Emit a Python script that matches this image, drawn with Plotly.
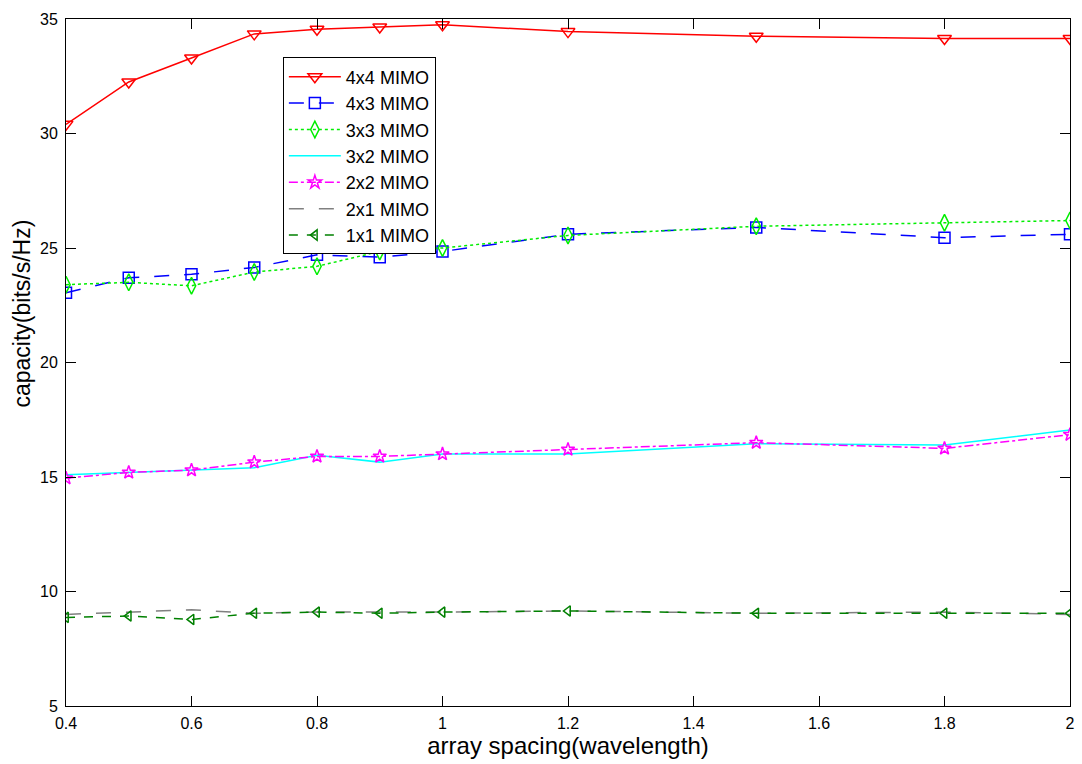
import plotly.graph_objects as go

x = [0.4, 0.5, 0.6, 0.7, 0.8, 0.9, 1.0, 1.2, 1.5, 1.8, 2.0]
mimo_4x4 = [30.4, 32.25, 33.3, 34.35, 34.55, 34.65, 34.75, 34.45, 34.25, 34.15, 34.15]
mimo_4x3 = [23.05, 23.7, 23.85, 24.15, 24.7, 24.6, 24.85, 25.6, 25.9, 25.45, 25.6]
mimo_3x3 = [23.4, 23.5, 23.35, 23.95, 24.2, 24.85, 25.0, 25.55, 25.95, 26.1, 26.2]
mimo_3x2 = [15.1, 15.2, 15.3, 15.4, 15.95, 15.65, 16.0, 16.0, 16.45, 16.4, 17.05]
mimo_2x2 = [14.95, 15.2, 15.3, 15.65, 15.9, 15.9, 16.0, 16.2, 16.5, 16.25, 16.85]
mimo_2x1 = [9.0, 9.1, 9.2, 9.05, 9.1, 9.1, 9.1, 9.15, 9.05, 9.1, 9.0]
mimo_1x1 = [8.87, 8.93, 8.78, 9.05, 9.1, 9.05, 9.1, 9.15, 9.05, 9.05, 9.05]

names = ["4x4 MIMO", "4x3 MIMO", "3x3 MIMO", "3x2 MIMO", "2x2 MIMO", "2x1 MIMO", "1x1 MIMO"]
series = [mimo_4x4, mimo_4x3, mimo_3x3, mimo_3x2, mimo_2x2, mimo_2x1, mimo_1x1]
styles = [
    dict(color="#ff0000", dash="solid", symbol="triangle-down-open", size=12, mode="lines+markers"),
    dict(color="#0000ff", dash="longdash", symbol="square-open", size=11, mode="lines+markers"),
    dict(color="#00ee00", dash="dot", symbol="diamond-tall-open", size=12, mode="lines+markers"),
    dict(color="#00ffff", dash="solid", symbol="circle", size=1, mode="lines"),
    dict(color="#ff00ff", dash="dashdot", symbol="star-open", size=10, mode="lines+markers"),
    dict(color="#808080", dash="longdash", symbol="circle", size=1, mode="lines"),
    dict(color="#008000", dash="dash", symbol="triangle-left-open", size=9, mode="lines+markers"),
]

fig = go.Figure()
for name, y, st in zip(names, series, styles):
    fig.add_trace(go.Scatter(
        x=x, y=y, name=name, mode=st["mode"],
        line=dict(color=st["color"], dash=st["dash"], width=1.5),
        marker=dict(symbol=st["symbol"], size=st["size"], color=st["color"],
                    line=dict(color=st["color"], width=1.5)),
    ))

font_fam = "Liberation Sans, Arial, sans-serif"

fig.update_layout(
    width=1082, height=764,
    margin=dict(l=66, r=7, t=19, b=58),
    paper_bgcolor="white", plot_bgcolor="white",
    font=dict(family=font_fam, size=16, color="black"),
    showlegend=True,
    legend=dict(x=0.216, y=0.944, xanchor="left", yanchor="top",
                bgcolor="white", bordercolor="black", borderwidth=1,
                font=dict(family=font_fam, size=18),
                tracegroupgap=0, itemwidth=52),
    xaxis=dict(range=[0.4, 2.0], tickvals=[0.4, 0.6, 0.8, 1.0, 1.2, 1.4, 1.6, 1.8, 2.0],
               ticktext=["0.4", "0.6", "0.8", "1", "1.2", "1.4", "1.6", "1.8", "2"],
               ticks="inside", ticklen=10, tickcolor="black", ticklabelstandoff=3,
               showline=True, linecolor="black", linewidth=1, mirror="allticks",
               showgrid=False, zeroline=False,
               title=dict(text="array spacing(wavelength)", font=dict(size=24), standoff=4)),
    yaxis=dict(range=[5, 35], tickvals=[5, 10, 15, 20, 25, 30, 35],
               ticks="inside", ticklen=10, tickcolor="black", ticklabelstandoff=4,
               showline=True, linecolor="black", linewidth=1, mirror="allticks",
               showgrid=False, zeroline=False),
    annotations=[dict(text="capacity(bits/s/Hz)", textangle=-90, showarrow=False,
                      xref="paper", yref="paper", x=-0.044, y=0.571,
                      xanchor="center", yanchor="middle", font=dict(size=23))],
)

fig.write_html("out.html")
